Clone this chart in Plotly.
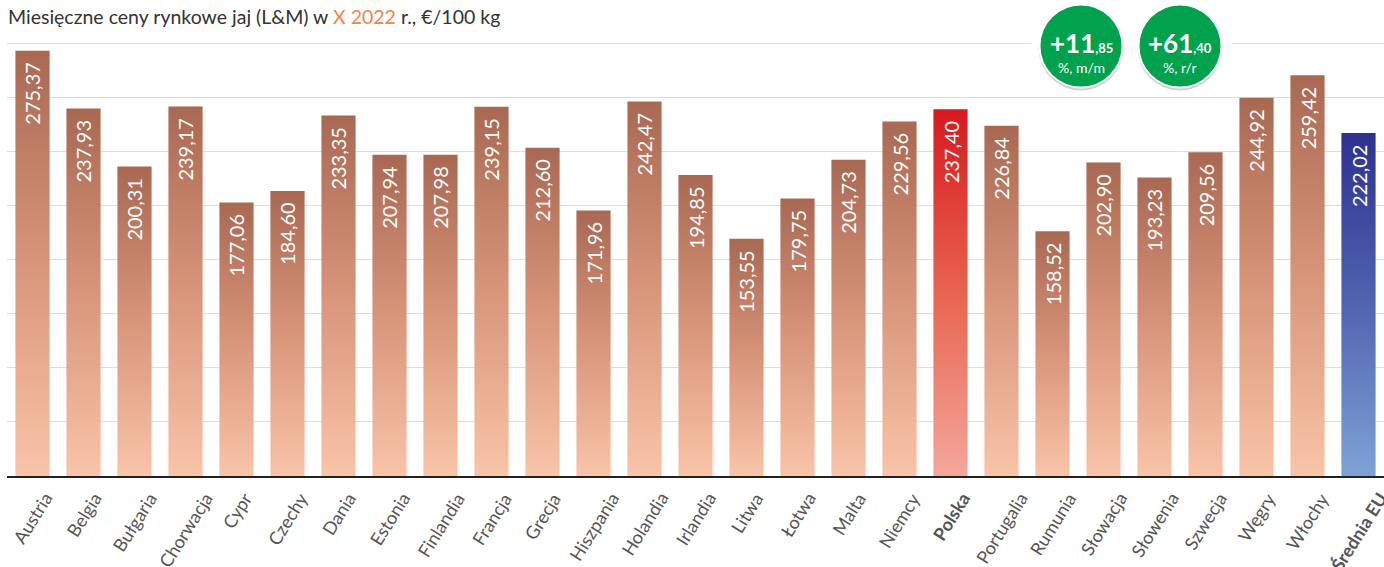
import plotly.graph_objects as go

countries = ["Austria", "Belgia", "Bułgaria", "Chorwacja", "Cypr", "Czechy", "Dania", "Estonia",
             "Finlandia", "Francja", "Grecja", "Hiszpania", "Holandia", "Irlandia", "Litwa", "Łotwa",
             "Malta", "Niemcy", "Polska", "Portugalia", "Rumunia", "Słowacja", "Słowenia", "Szwecja",
             "Węgry", "Włochy", "Średnia EU"]
prices = [275.37, 237.93, 200.31, 239.17, 177.06, 184.60, 233.35, 207.94,
          207.98, 239.15, 212.60, 171.96, 242.47, 194.85, 153.55, 179.75,
          204.73, 229.56, 237.40, 226.84, 158.52, 202.90, 193.23, 209.56,
          244.92, 259.42, 222.02]
highlight = {"Polska": "pl", "Średnia EU": "eu"}
badge_main = ["+11", "+61"]
badge_dec = [",85", ",40"]
badge_sub = ["%, m/m", "%, r/r"]

W, H = 1384, 567
ML, MR, MT, MB = 7, 0, 42, 91
PW, PH = W - ML - MR, H - MT - MB
YMAX = 281

grad = {
    None: [[0, "#f9c4a8"], [0.5, "#d8957a"], [1, "#a96852"]],
    "pl": [[0, "#f4a69c"], [0.5, "#e8644f"], [1, "#d71920"]],
    "eu": [[0, "#7ea2d6"], [0.5, "#5164b0"], [1, "#2d3190"]],
}

fig = go.Figure()
annotations = []
hw = 0.335
for i, (c, v) in enumerate(zip(countries, prices)):
    key = highlight.get(c)
    fig.add_trace(go.Scatter(
        x=[i - hw, i + hw, i + hw, i - hw, i - hw],
        y=[0, 0, v, v, 0],
        mode="lines", line=dict(width=0), fill="toself",
        fillgradient=dict(type="vertical", colorscale=grad[key]),
        hoverinfo="skip", showlegend=False))
    annotations.append(dict(x=i, y=v, xref="x", yref="y", text=f"{v:.2f}".replace(".", ","),
                            textangle=-90, showarrow=False, yanchor="top", xanchor="center",
                            yshift=-9, font=dict(family="Lato", size=20, color="white")))
    label = f"<b>{c}</b>" if c in highlight else c
    annotations.append(dict(x=i, y=0, xref="x", yref="y", text=label, textangle=-58,
                            showarrow=False, xanchor="center", yanchor="top", yshift=-10,
                            font=dict(family="Lato", size=18, color="#555")))

def px_x(px):
    return (px - ML) / PW

def px_y(py):
    return (MT + PH - py) / PH

shapes = []
shapes.append(dict(type="rect", xref="paper", yref="paper", layer="above",
                   x0=px_x(1031), x1=px_x(1232), y0=px_y(92), y1=px_y(1),
                   fillcolor="white", line=dict(width=0)))
centers = [1081, 1180]
cy, r = 46, 41.5
for cx in centers:
    shapes.append(dict(type="circle", xref="paper", yref="paper", layer="above",
                       x0=px_x(cx - r - 1), x1=px_x(cx + r + 1), y0=px_y(cy + r + 3), y1=px_y(cy - r + 1),
                       fillcolor="rgba(0,0,0,0.18)", line=dict(width=0)))
    shapes.append(dict(type="circle", xref="paper", yref="paper", layer="above",
                       x0=px_x(cx - r), x1=px_x(cx + r), y0=px_y(cy + r), y1=px_y(cy - r),
                       fillcolor="#00a24e", line=dict(color="white", width=2)))

for k, cx in enumerate(centers):
    annotations.append(dict(xref="paper", yref="paper", x=px_x(cx), y=px_y(43),
                            text=f"<b>{badge_main[k]}</b><span style='font-size:13px'><b>{badge_dec[k]}</b></span>",
                            showarrow=False, xanchor="center", yanchor="middle",
                            font=dict(family="Lato", size=26, color="white")))
    annotations.append(dict(xref="paper", yref="paper", x=px_x(cx), y=px_y(68),
                            text=badge_sub[k], showarrow=False, xanchor="center", yanchor="middle",
                            font=dict(family="Lato", size=14, color="white")))

fig.update_layout(
    width=W, height=H,
    margin=dict(l=ML, r=MR, t=MT, b=MB, autoexpand=False),
    paper_bgcolor="white", plot_bgcolor="white",
    font=dict(family="Lato", color="#333"),
    title=dict(text="Miesięczne ceny rynkowe jaj (L&amp;M) w <span style='color:#f5843f'>X 2022</span> r., €/100 kg",
               x=8 / W, xanchor="left", xref="container", y=1 - 10 / H, yanchor="top", yref="container",
               pad=dict(l=0, r=0, t=0, b=0),
               font=dict(family="Lato", size=19.5, color="#333")),
    xaxis=dict(range=[-0.5, len(countries) - 0.5], automargin=False, showticklabels=False,
               showline=True, linecolor="#222", linewidth=2, showgrid=False, ticks="", zeroline=False),
    yaxis=dict(range=[0, YMAX], tick0=0, dtick=35, showticklabels=False, showgrid=True, automargin=False,
               gridcolor="#dddddd", gridwidth=1, zeroline=False, ticks=""),
    shapes=shapes, annotations=annotations,
)

fig.write_html("out.html", config={"displayModeBar": False},
               post_script="document.body.style.margin='0px';")
